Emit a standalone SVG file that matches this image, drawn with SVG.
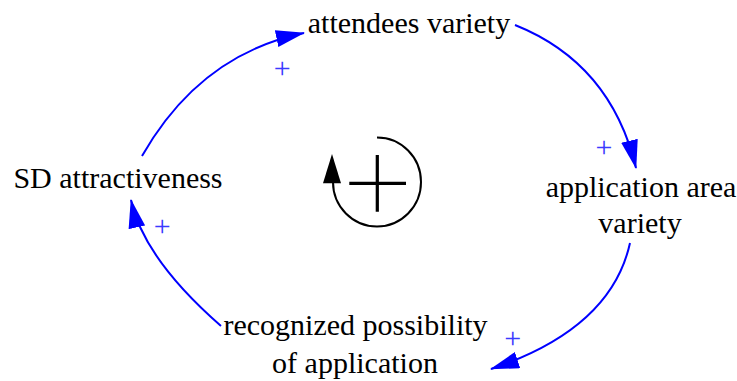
<svg xmlns="http://www.w3.org/2000/svg" width="737" height="381" viewBox="0 0 737 381">
<defs>
<style>
.lbl{font-family:'Liberation Serif','Times New Roman',serif;font-size:30px;fill:#000;text-anchor:middle}
.pol{font-family:'Liberation Serif','Times New Roman',serif;font-size:30px;fill:#3a3aff;text-anchor:middle}
.link{fill:none;stroke:#0000ff;stroke-width:2;marker-end:url(#ah)}
</style>
<marker id="ah" markerUnits="userSpaceOnUse" viewBox="0 0 29 17" refX="28" refY="8.5" markerWidth="29" markerHeight="17" orient="auto">
<path d="M0,0 L29,8.5 L0,17 z" fill="#0000ff"/>
</marker>
</defs>
<rect width="737" height="381" fill="#fff"/>
<g id="connectors">
<path class="link" d="M142,156 Q200,54.5 304,33"/>
<path class="link" d="M515,25 Q610.8,63.3 636,168"/>
<path class="link" d="M630,243 Q611,329 491,369"/>
<path class="link" d="M221,326 Q143.6,258.2 131,200"/>
<text class="pol" x="282.3" y="78">+</text>
<text class="pol" x="604" y="157">+</text>
<text class="pol" x="512.7" y="348">+</text>
<text class="pol" x="162.3" y="235.5">+</text>
</g>
<g id="attendees_variety"><text class="lbl" x="409" y="33">attendees variety</text></g>
<g id="application_area_variety"><text class="lbl" x="641" y="197">application area</text><text class="lbl" x="640" y="233">variety</text></g>
<g id="recognized_possibility"><text class="lbl" x="355.5" y="335">recognized possibility</text><text class="lbl" x="355" y="373">of application</text></g>
<g id="SD_attractiveness"><text class="lbl" x="118" y="188">SD attractiveness</text></g>
<g id="loop">
<path d="M377,137.5 A44,44.5 0 1,1 333,182" fill="none" stroke="#000" stroke-width="2"/>
<polygon points="332,154 323,183.3 341,183.3" fill="#000"/>
<path d="M349.3,183.3 H406 M377.3,155 V211.7" stroke="#000" stroke-width="3.2" fill="none"/>
</g>
</svg>
